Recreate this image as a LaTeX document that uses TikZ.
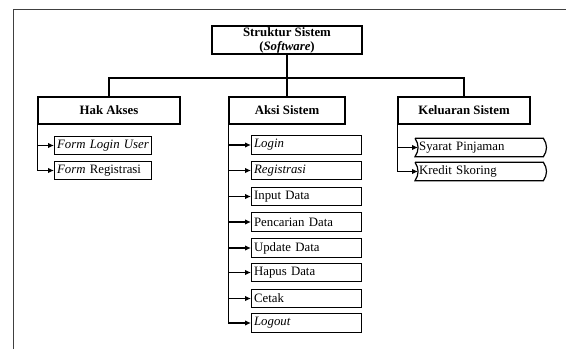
\documentclass[tikz,border=0pt]{standalone}
\usepackage{fontspec}
\setmainfont{Liberation Serif}
\usetikzlibrary{arrows.meta}
\tikzset{
  x=1pt, y=-1pt,
  every node/.style={font=\fontsize{12.8}{14.5}\selectfont, inner sep=0pt},
  headbox/.style={draw, line width=1.3pt, minimum height=27pt, font=\fontsize{12.8}{14.5}\selectfont\bfseries},
  itembox/.style={draw, line width=1.2pt, minimum height=18.5pt, anchor=west, align=left, inner xsep=2.5pt},
  outbox/.style={minimum height=18pt, anchor=west, align=left, inner xsep=4pt},
  wire/.style={line width=1.2pt},
  feed/.style={line width=1.2pt, -{Latex[length=6pt,width=5.5pt]}},
  frameline/.style={line width=1.5pt, draw=black!75},
}
\begin{document}
\begin{tikzpicture}
\useasboundingbox (0,0) rectangle (566,349);
% open frame
\draw[frameline] (13.5,349) -- (13.5,9.5) -- (566,9.5);

% root
\node[draw, line width=1.3pt, minimum width=150pt, minimum height=28pt, align=center,
      font=\fontsize{12.8}{14}\selectfont\bfseries] (root) at (287,40)
  {Struktur Sistem\\(\textit{Software})};

% section headers
\node[headbox, minimum width=142pt] (hak) at (109,110.5) {Hak Akses};
\node[headbox, minimum width=116pt] (aksi) at (287,110.5) {Aksi Sistem};
\node[headbox, minimum width=132pt] (kel) at (464,110.5) {Keluaran Sistem};

\coordinate (bus) at (287,78);
\draw[wire] (root.south) -- (aksi.north);
\draw[wire] (hak.north) |- (bus) -| (kel.north);

% access items
\node[itembox, text width=92pt] (h1) at (54,145.5) {\mbox{\textit{Form Login User}}};
\node[itembox, text width=92pt] (h2) at (54,170.5) {\mbox{\textit{Form} Registrasi}};

% action items
\node[itembox, text width=105pt] (a1) at (251,145) {\textit{Login}};
\node[itembox, text width=105pt] (a2) at (251,170.5) {\textit{Registrasi}};
\node[itembox, text width=105pt] (a3) at (251,196.5) {Input Data};
\node[itembox, text width=105pt] (a4) at (251,222) {Pencarian Data};
\node[itembox, text width=105pt] (a5) at (251,248) {Update Data};
\node[itembox, text width=105pt] (a6) at (251,272.5) {Hapus Data};
\node[itembox, text width=105pt] (a7) at (251,298.5) {Cetak};
\node[itembox, text width=105pt] (a8) at (251,323) {\textit{Logout}};

% output items
\node[outbox, text width=120pt] (k1) at (415,147.5) {Syarat Pinjaman};
\node[outbox, text width=120pt] (k2) at (415,171.5) {Kredit Skoring};
\foreach \n in {k1,k2}{
  \draw[line width=1.2pt] (\n.north west) -- (\n.north east)
    to[bend left=35] (\n.south east) -- (\n.south west)
    to[bend right=35] (\n.north west);
}

% branches
\draw[wire] (hak.west) -- (hak.west |- h2.west);
\foreach \c in {h1,h2} \draw[feed] (hak.west |- \c.west) -- (\c.west);

\draw[wire] (aksi.west) -- (aksi.west |- a8.west);
\foreach \c in {a1,a2,a3,a4,a5,a6,a7,a8} \draw[feed] (aksi.west |- \c.west) -- (\c.west);

\draw[wire] (kel.west) -- (kel.west |- k2.west);
\foreach \c in {k1,k2} \draw[feed] (kel.west |- \c.west) -- ([xshift=3pt]\c.west);
\end{tikzpicture}
\end{document}
